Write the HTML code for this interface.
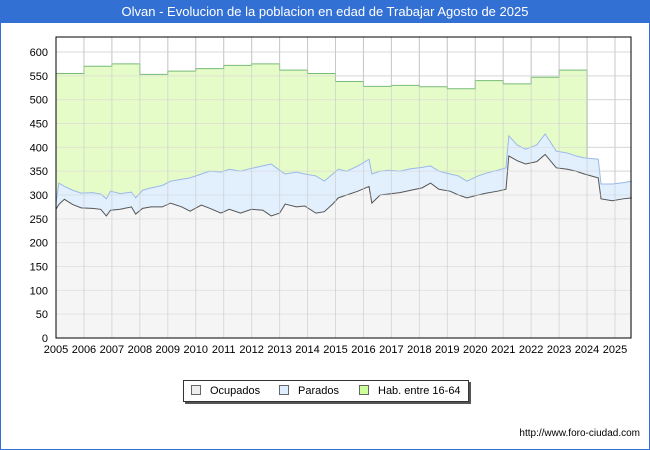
<!DOCTYPE html>
<html><head><meta charset="utf-8"><style>
body{margin:0;background:#fff;font-family:"Liberation Sans","DejaVu Sans",sans-serif;}
#wrap{position:relative;width:648px;height:448px;border:1px solid #3370d4;overflow:hidden;}
#title{position:absolute;left:0;top:0;width:648px;height:22px;background:#3370d4;color:#fff;font-size:13px;line-height:22px;text-align:center;}
svg{position:absolute;left:0;top:0;}
#legend{position:absolute;left:182px;top:379px;width:284px;height:20px;border:1px solid #333;box-shadow:2px 2px 0 #555;background:#fff;font-size:11px;line-height:20px;}
.li{position:absolute;top:0;}
.sw{display:inline-block;width:8px;height:8px;border:1px solid #666;margin-right:9px;vertical-align:-1px;}
#url{position:absolute;right:9px;top:427px;font-size:10px;color:#000;}
</style></head><body>
<div id="wrap">
<div id="title">Olvan - Evolucion de la poblacion en edad de Trabajar Agosto de 2025</div>
<svg id="chart" width="650" height="450"></svg>
<div id="legend">
<span class="li" style="left:7px"><span class="sw" style="background:#eeeeee"></span>Ocupados</span>
<span class="li" style="left:95px"><span class="sw" style="background:#ddeeff"></span>Parados</span>
<span class="li" style="left:175px"><span class="sw" style="background:#ccff99"></span>Hab. entre 16-64</span>
</div>
<div id="url">http://www.foro-ciudad.com</div>
</div>
<script>
const times=[2005.0,2005.1,2005.3,2005.6,2005.9,2006.3,2006.6,2006.8,2006.95,2007.3,2007.7,2007.85,2008.1,2008.4,2008.8,2009.1,2009.5,2009.8,2010.2,2010.5,2010.9,2011.2,2011.6,2012.0,2012.4,2012.7,2013.0,2013.2,2013.6,2013.9,2014.3,2014.6,2014.9,2015.1,2015.4,2015.8,2016.2,2016.3,2016.6,2016.9,2017.3,2017.7,2018.1,2018.4,2018.7,2019.1,2019.4,2019.7,2020.1,2020.4,2020.8,2021.1,2021.2,2021.5,2021.8,2022.2,2022.5,2022.9,2023.3,2023.6,2023.9,2024.4,2024.5,2024.9,2025.3,2025.6];
const ocupados=[270,280,291,280,273,272,270,256,268,270,275,260,272,275,275,283,275,266,279,272,262,270,262,270,268,256,262,281,275,277,262,265,281,294,300,308,318,283,300,302,305,310,315,325,312,308,300,294,300,304,308,312,382,372,365,370,385,357,354,350,344,336,292,288,292,294];
const total=[283,325,318,310,304,305,302,292,308,303,306,294,310,315,320,329,333,336,344,350,348,354,350,356,361,365,352,344,348,344,340,329,344,354,350,361,375,344,350,352,350,355,358,361,350,344,340,329,340,346,352,357,424,405,396,405,428,392,388,382,378,375,323,323,326,329];
const habYears=[2005,2006,2007,2008,2009,2010,2011,2012,2013,2014,2015,2016,2017,2018,2019,2020,2021,2022,2023];
const habValues=[555,570,575,553,560,565,572,575,562,555,538,528,530,527,523,540,533,547,562];
const yTicks=[0,50,100,150,200,250,300,350,400,450,500,550,600];
const xYears=[2005,2006,2007,2008,2009,2010,2011,2012,2013,2014,2015,2016,2017,2018,2019,2020,2021,2022,2023,2024,2025];

const X0=55,X1=630,Y0=337,YT=36;
const xs=t=>X0+(t-2005)*27.95;
const ys=v=>Y0-v*(286/600);
const svg=document.getElementById('chart');
const NS='http://www.w3.org/2000/svg';
function mk(tag,attrs,parent){const e=document.createElementNS(NS,tag);for(const k in attrs)e.setAttribute(k,attrs[k]);(parent||svg).appendChild(e);return e;}

// grid
yTicks.forEach(v=>{
  const l=mk('line',{x1:X0,x2:X1,y1:ys(v),y2:ys(v),stroke:'#dddddd','stroke-width':1});
  
  
  const t=mk('text',{x:X0-8,y:ys(v)+4,'text-anchor':'end','font-size':11,fill:'#000','font-family':'Liberation Sans, sans-serif'});
  t.textContent=v;
  
  
});
xYears.forEach(y=>{
  const l=mk('line',{x1:xs(y),x2:xs(y),y1:YT,y2:Y0,stroke:'#cccccc','stroke-width':1});
  
  
  const t=mk('text',{x:xs(y),y:Y0+15,'text-anchor':'middle','font-size':11,fill:'#000','font-family':'Liberation Sans, sans-serif'});
  t.textContent=y;
  
  
});

// hab area (step)
let hp=[];
habYears.forEach((y,i)=>{hp.push([xs(y),ys(habValues[i])]);hp.push([xs(y+1),ys(habValues[i])]);});
const habEnd=xs(2024);
let hpoly=hp.map(p=>p.join(',')).join(' ')+' '+habEnd+','+ys(375)+' '+habEnd+','+Y0+' '+X0+','+Y0;
const ha=mk('polygon',{points:hpoly,fill:'#e6fcc8',stroke:'none'});


const hl=mk('polyline',{points:hp.map(p=>p.join(',')).join(' ')+' '+habEnd+','+ys(375),fill:'none',stroke:'#77bb77','stroke-width':1});



// total area (parados on top of ocupados)
const tp=times.map((t,i)=>xs(t)+','+ys(total[i])).join(' ');
const ta=mk('polygon',{points:tp+' '+xs(times[times.length-1])+','+Y0+' '+X0+','+Y0,fill:'#e2f0fe',stroke:'none'});


const tl=mk('polyline',{points:tp,fill:'none',stroke:'#9ab8e8','stroke-width':1});



// ocupados
const op=times.map((t,i)=>xs(t)+','+ys(ocupados[i])).join(' ');
const oa=mk('polygon',{points:op+' '+xs(times[times.length-1])+','+Y0+' '+X0+','+Y0,fill:'#f5f5f5',stroke:'none'});


const ol=mk('polyline',{points:op,fill:'none',stroke:'#555555','stroke-width':1});



// regrid over fills lightly
yTicks.forEach(v=>{const l=mk('line',{x1:X0,x2:X1,y1:ys(v),y2:ys(v),stroke:'#d8d8d8','stroke-width':1,opacity:0.6});

});
xYears.forEach(y=>{const l=mk('line',{x1:xs(y),x2:xs(y),y1:YT,y2:Y0,stroke:'#c8c8c8','stroke-width':1,opacity:0.6});

});

const fr=mk('rect',{x:X0,y:YT,width:X1-X0,height:Y0-YT,fill:'none',stroke:'#000','stroke-width':1});


</script>
</body></html>
